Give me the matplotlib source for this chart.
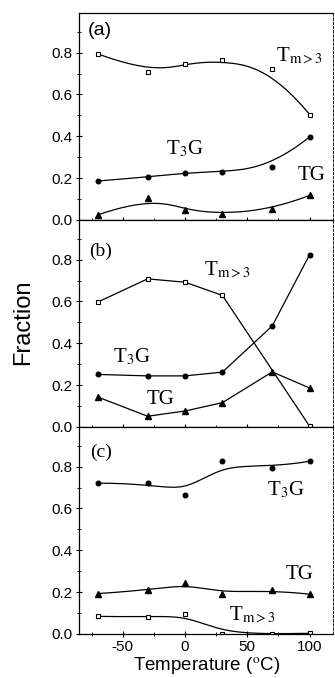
import numpy as np
import matplotlib
matplotlib.use("Agg")
import matplotlib.pyplot as plt
from matplotlib.ticker import MultipleLocator

plt.rcParams["font.family"] = "Liberation Sans"
plt.rcParams["mathtext.fontset"] = "stix"
plt.rcParams["axes.unicode_minus"] = False

# temperatures (°C)
temp = [-70, -30, 0, 30, 70, 100]
temp_b_tm = [-70, -30, 0, 30, 100]

# panel (a)
a_tm = [0.794, 0.706, 0.746, 0.765, 0.720, 0.504]
a_t3g = [0.186, 0.205, 0.226, 0.229, 0.254, 0.397]
a_tg = [0.024, 0.106, 0.048, 0.027, 0.050, 0.117]

# panel (b)
b_tm = [0.597, 0.708, 0.692, 0.629, 0.003]
b_t3g = [0.251, 0.244, 0.244, 0.262, 0.483, 0.824]
b_tg = [0.143, 0.051, 0.076, 0.116, 0.263, 0.186]

# panel (c)
c_t3g = [0.721, 0.721, 0.663, 0.826, 0.795, 0.826]
c_tg = [0.193, 0.208, 0.245, 0.190, 0.210, 0.190]
c_tm = [0.084, 0.080, 0.097, 0.000, 0.000, 0.003]


def bspline(xs, ys, n=200):
    # clamped cubic B-spline with the data points as control points (Origin style)
    pts = np.column_stack([xs, ys]).astype(float)
    k = 3
    m = len(pts)
    knots = np.concatenate([np.zeros(k), np.arange(m - k + 1), np.full(k, m - k)]).astype(float)
    t = np.linspace(0, m - k, n)
    t[-1] -= 1e-9
    N = np.zeros((n, len(knots) - 1))
    for i in range(len(knots) - 1):
        N[:, i] = (knots[i] <= t) & (t < knots[i + 1])
    for d in range(1, k + 1):
        Nn = np.zeros((n, len(knots) - 1 - d))
        for i in range(len(knots) - 1 - d):
            left = 0.0
            right = 0.0
            if knots[i + d] != knots[i]:
                left = (t - knots[i]) / (knots[i + d] - knots[i]) * N[:, i]
            if knots[i + d + 1] != knots[i + 1]:
                right = (knots[i + d + 1] - t) / (knots[i + d + 1] - knots[i + 1]) * N[:, i + 1]
            Nn[:, i] = left + right
        N = Nn
    curve = N @ pts
    return curve[:, 0], curve[:, 1]


fig = plt.figure(figsize=(3.35, 6.78), dpi=100)
axes = fig.subplots(3, 1, sharex=True, gridspec_kw=dict(hspace=0))
fig.subplots_adjust(left=0.236, right=0.995, top=0.981, bottom=0.065)

sq = dict(marker="s", ms=3.3, mfc="white", mec="black", mew=0.8, ls="none")
ci = dict(marker="o", ms=3.3, mfc="black", mec="black", ls="none")
tr = dict(marker="^", ms=4.3, mfc="black", mec="black", ls="none")
lw = 0.9
serif = "Liberation Serif"

# (a)
ax = axes[0]
for ys, st in [(a_tm, sq), (a_t3g, ci), (a_tg, tr)]:
    cx, cy = bspline(temp, ys)
    ax.plot(cx, cy, color="black", lw=lw)
    ax.plot(temp, ys, **st)
ax.text(-78, 0.905, "(a)", fontsize=14, va="center")
ax.text(73, 0.786, r"T$_{\rm m>3}$", family=serif, fontsize=15, va="center")
ax.text(-15, 0.34, r"T$_{\rm 3}$G", family=serif, fontsize=15, va="center")
ax.text(90, 0.21, "TG", family=serif, fontsize=15, va="center")

# (b)
ax = axes[1]
ax.plot(temp_b_tm, b_tm, color="black", lw=lw)
ax.plot(temp_b_tm, b_tm, **sq)
ax.plot(temp, b_t3g, color="black", lw=lw)
ax.plot(temp, b_t3g, **ci)
ax.plot(temp, b_tg, color="black", lw=lw)
ax.plot(temp, b_tg, **tr)
ax.text(-77, 0.84, "(b)", family=serif, fontsize=14, va="center")
ax.text(15, 0.75, r"T$_{\rm m>3}$", family=serif, fontsize=15, va="center")
ax.text(-58, 0.333, r"T$_{\rm 3}$G", family=serif, fontsize=15, va="center")
ax.text(-31, 0.133, "TG", family=serif, fontsize=15, va="center")

# (c)
ax = axes[2]
for ys, st in [(c_t3g, ci), (c_tg, tr), (c_tm, sq)]:
    cx, cy = bspline(temp, ys)
    ax.plot(cx, cy, color="black", lw=lw)
    ax.plot(temp, ys, **st)
ax.text(-76, 0.87, "(c)", family=serif, fontsize=14, va="center")
ax.text(66, 0.69, r"T$_{\rm 3}$G", family=serif, fontsize=15, va="center")
ax.text(81, 0.285, "TG", family=serif, fontsize=15, va="center")
ax.text(35, 0.09, r"T$_{\rm m>3}$", family=serif, fontsize=15, va="center")

for ax in axes:
    ax.set_xlim(-85, 119)
    ax.set_ylim(0, 0.99)
    ax.yaxis.set_major_locator(MultipleLocator(0.2))
    ax.yaxis.set_minor_locator(MultipleLocator(0.1))
    ax.xaxis.set_major_locator(MultipleLocator(50))
    ax.xaxis.set_minor_locator(MultipleLocator(25))
    ax.tick_params(which="major", direction="inout", length=5, width=0.8, labelsize=11, pad=2)
    ax.tick_params(which="minor", direction="inout", length=3, width=0.6)
    for s in ax.spines.values():
        s.set_linewidth(0.9)
    ax.spines["right"].set_linestyle((0, (3, 2)))
    ax.spines["right"].set_linewidth(0.6)

axes[2].set_xlabel(r"Temperature ($^{\rm o}$C)", fontsize=13.5, labelpad=1)
fig.text(0.07, 0.525, "Fraction", rotation=90, fontsize=17, va="center", ha="center")

fig.savefig("out.png", dpi=100)
